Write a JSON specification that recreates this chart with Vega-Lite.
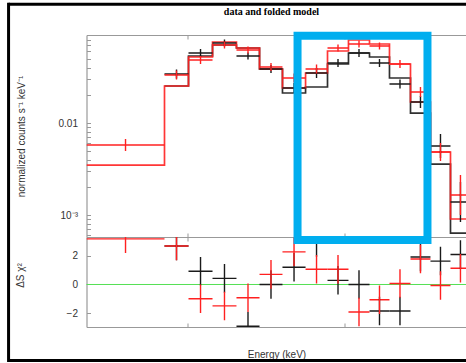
{
  "$schema": "https://vega.github.io/schema/vega-lite/v6.json",
  "autosize": {"type": "pad"},
  "padding": {"left": 6.5, "top": 1, "right": 0, "bottom": 0},
  "background": "white",
  "spacing": 0,
  "bounds": "flush",
  "config": {
    "view": {"stroke": null},
    "axis": {"grid": false, "domainColor": "#999999", "tickColor": "#999999", "domainWidth": 1.2, "tickWidth": 1, "labelFont": "Liberation Sans", "titleFont": "Liberation Sans", "labelFontSize": 10, "titleFontSize": 10, "labelColor": "#333333", "titleColor": "#333333", "titleFontWeight": "normal"}
  },
  "datasets": {
    "spec": [
      {"s":"b","lo":0.4517,"hi":0.5022,"mid":0.4763,"d":0.03408,"dlo":0.03046,"dhi":0.03814,"res":2.7,"rlo":1.7,"rhi":3.7},
      {"s":"b","lo":0.5022,"hi":0.5584,"mid":0.5296,"d":0.05767,"dlo":0.05218,"dhi":0.06374,"res":0.93,"rlo":-0.07,"rhi":1.93},
      {"s":"b","lo":0.5584,"hi":0.6207,"mid":0.5887,"d":0.07406,"dlo":0.06785,"dhi":0.08084,"res":0.43,"rlo":-0.57,"rhi":1.43},
      {"s":"b","lo":0.6207,"hi":0.6872,"mid":0.6531,"d":0.05351,"dlo":0.04902,"dhi":0.05841,"res":-2.93,"rlo":-3.93,"rhi":-1.93},
      {"s":"b","lo":0.6872,"hi":0.7605,"mid":0.7229,"d":0.03864,"dlo":0.03496,"dhi":0.04271,"res":0.0,"rlo":-1.0,"rhi":1.0},
      {"s":"b","lo":0.7605,"hi":0.8421,"mid":0.8003,"d":0.02401,"dlo":0.02119,"dhi":0.02721,"res":1.21,"rlo":0.21,"rhi":2.21},
      {"s":"b","lo":0.8421,"hi":0.9278,"mid":0.8839,"d":0.03495,"dlo":0.03084,"dhi":0.03961,"res":2.95,"rlo":1.95,"rhi":3.95},
      {"s":"b","lo":0.9278,"hi":1.0178,"mid":0.9718,"d":0.04489,"dlo":0.04061,"dhi":0.04962,"res":0.29,"rlo":-0.71,"rhi":1.29},
      {"s":"b","lo":1.0178,"hi":1.1168,"mid":1.0662,"d":0.05767,"dlo":0.05218,"dhi":0.06374,"res":0.0,"rlo":-1.0,"rhi":1.0},
      {"s":"b","lo":1.1168,"hi":1.2198,"mid":1.1672,"d":0.04489,"dlo":0.04061,"dhi":0.04962,"res":-1.86,"rlo":-2.86,"rhi":-0.86},
      {"s":"b","lo":1.2198,"hi":1.3384,"mid":1.2777,"d":0.02654,"dlo":0.02372,"dhi":0.0297,"res":-1.86,"rlo":-2.86,"rhi":-0.86},
      {"s":"b","lo":1.3384,"hi":1.4618,"mid":1.3987,"d":0.01692,"dlo":0.01456,"dhi":0.01966,"res":1.93,"rlo":0.93,"rhi":2.93},
      {"s":"b","lo":1.4618,"hi":1.5969,"mid":1.5279,"d":0.005623,"dlo":0.004164,"dhi":0.007593,"res":1.64,"rlo":0.64,"rhi":2.64},
      {"s":"b","lo":1.5969,"hi":1.744,"mid":1.6688,"d":0.001385,"dlo":0.000839,"dhi":0.002285,"res":2.1,"rlo":1.1,"rhi":3.1},
      {"s":"r","lo":0.3201,"hi":0.4517,"mid":0.3803,"d":0.005766,"dlo":0.004962,"dhi":0.0067,"res":3.2,"rlo":2.2,"rhi":4.2},
      {"s":"r","lo":0.4517,"hi":0.5022,"mid":0.4763,"d":0.03324,"dlo":0.02971,"dhi":0.0372,"res":2.7,"rlo":1.7,"rhi":3.7},
      {"s":"r","lo":0.5022,"hi":0.5584,"mid":0.5296,"d":0.04839,"dlo":0.04378,"dhi":0.05349,"res":-1.0,"rlo":-2.0,"rhi":0.0},
      {"s":"r","lo":0.5584,"hi":0.6207,"mid":0.5887,"d":0.07044,"dlo":0.06454,"dhi":0.07689,"res":-1.5,"rlo":-2.5,"rhi":-0.5},
      {"s":"r","lo":0.6207,"hi":0.6872,"mid":0.6531,"d":0.06216,"dlo":0.05695,"dhi":0.06785,"res":-0.93,"rlo":-1.93,"rhi":0.07},
      {"s":"r","lo":0.6872,"hi":0.7605,"mid":0.7229,"d":0.04062,"dlo":0.03675,"dhi":0.0449,"res":0.71,"rlo":-0.29,"rhi":1.71},
      {"s":"r","lo":0.7605,"hi":0.8421,"mid":0.8003,"d":0.03084,"dlo":0.02756,"dhi":0.03451,"res":2.29,"rlo":1.29,"rhi":3.29},
      {"s":"r","lo":0.8421,"hi":0.9278,"mid":0.8839,"d":0.03864,"dlo":0.03453,"dhi":0.04324,"res":1.07,"rlo":0.07,"rhi":2.07},
      {"s":"r","lo":0.9278,"hi":1.0178,"mid":0.9718,"d":0.06536,"dlo":0.05988,"dhi":0.07134,"res":1.07,"rlo":0.07,"rhi":2.07},
      {"s":"r","lo":1.0178,"hi":1.1168,"mid":1.0662,"d":0.07222,"dlo":0.06617,"dhi":0.07883,"res":-1.93,"rlo":-2.93,"rhi":-0.93},
      {"s":"r","lo":1.1168,"hi":1.2198,"mid":1.1672,"d":0.0687,"dlo":0.06294,"dhi":0.07499,"res":-1.07,"rlo":-2.07,"rhi":-0.07},
      {"s":"r","lo":1.2198,"hi":1.3384,"mid":1.2777,"d":0.04378,"dlo":0.03961,"dhi":0.04839,"res":0.07,"rlo":-0.93,"rhi":1.07},
      {"s":"r","lo":1.3384,"hi":1.4618,"mid":1.3987,"d":0.02172,"dlo":0.01917,"dhi":0.02461,"res":1.79,"rlo":0.79,"rhi":2.79},
      {"s":"r","lo":1.4618,"hi":1.5969,"mid":1.5279,"d":0.004839,"dlo":0.003863,"dhi":0.006062,"res":-0.07,"rlo":-1.07,"rhi":0.93},
      {"s":"r","lo":1.5969,"hi":1.744,"mid":1.6688,"d":0.00165,"dlo":0.001,"dhi":0.002723,"res":1.14,"rlo":0.14,"rhi":2.14}
    ],
    "model": [
      {"s":"b","e":0.4517,"m":0.02524},{"s":"b","e":0.5022,"m":0.05351},{"s":"b","e":0.5584,"m":0.07044},{"s":"b","e":0.6207,"m":0.06536},{"s":"b","e":0.6872,"m":0.03864},{"s":"b","e":0.7605,"m":0.02119},{"s":"b","e":0.8421,"m":0.02462},{"s":"b","e":0.9278,"m":0.04378},{"s":"b","e":1.0178,"m":0.05767},{"s":"b","e":1.1168,"m":0.05218},{"s":"b","e":1.2198,"m":0.03084},{"s":"b","e":1.3384,"m":0.01284},{"s":"b","e":1.4618,"m":0.003583},{"s":"b","e":1.5969,"m":0.0006373},{"s":"b","e":1.744,"m":0.0006373},
      {"s":"r","e":0.3201,"m":0.003495},{"s":"r","e":0.4517,"m":0.02524},{"s":"r","e":0.5022,"m":0.05218},{"s":"r","e":0.5584,"m":0.07594},{"s":"r","e":0.6207,"m":0.06536},{"s":"r","e":0.6872,"m":0.03864},{"s":"r","e":0.7605,"m":0.02401},{"s":"r","e":0.8421,"m":0.03495},{"s":"r","e":0.9278,"m":0.06063},{"s":"r","e":1.0178,"m":0.07984},{"s":"r","e":1.1168,"m":0.07222},{"s":"r","e":1.2198,"m":0.04378},{"s":"r","e":1.3384,"m":0.01692},{"s":"r","e":1.4618,"m":0.004839},{"s":"r","e":1.5969,"m":0.0009049},{"s":"r","e":1.744,"m":0.0009049}
    ],
    "zero": [{"z": 0}],
    "box": [{"e0": 0.8128, "e1": 1.4426, "r0": 3.12, "r1": 17.44}],
    "frame": [
      {"x1": 0.2269, "x2": 1.7139, "y1": 19.65, "y2": 19.65},
      {"x1": 0.2269, "x2": 1.7139, "y1": -5.33, "y2": -5.33},
      {"x1": 0.2269, "x2": 0.2269, "y1": -5.43, "y2": 19.75}
    ]
  },
  "vconcat": [
    {
      "width": 380,
      "height": 202,
      "title": {"text": "data and folded model", "font": "Liberation Serif", "fontSize": 10, "fontWeight": "bold", "color": "#000000", "offset": 8, "baseline": "bottom", "anchor": "middle", "frame": "group", "dx": -5},
      "resolve": {"axis": {"x": "independent"}},
      "layer": [
        {
          "data": {"name": "model"},
          "mark": {"type": "line", "interpolate": "step-after", "clip": true, "strokeWidth": 1.7, "opacity": 0.9},
          "encoding": {
            "x": {"field": "e", "type": "quantitative", "scale": {"type": "log", "domain": [0.3201, 1.7139], "nice": false}, "axis": {"orient": "bottom", "values": [0.5, 1], "labels": false, "title": null, "tickSize": -4}},
            "y": {"field": "m", "type": "quantitative", "scale": {"type": "log", "domain": [0.000577, 0.0905], "nice": false}, "title": "normalized counts s⁻¹ keV⁻¹",
              "axis": {"values": [0.0006, 0.0007, 0.0008, 0.0009, 0.001, 0.002, 0.003, 0.004, 0.005, 0.006, 0.007, 0.008, 0.009, 0.01, 0.02, 0.03, 0.04, 0.05, 0.06, 0.07, 0.08, 0.09], "labelExpr": "datum.value == 0.01 ? '0.01' : (datum.value == 0.001 ? '10⁻³' : '')", "tickSize": -4, "labelPadding": 13, "titlePadding": 32}},
            "color": {"field": "s", "type": "nominal", "scale": {"domain": ["b", "r"], "range": ["#1a1a1a", "#ff2020"]}, "legend": null}
          }
        },
        {
          "data": {"name": "spec"},
          "mark": {"type": "rule", "clip": true, "strokeWidth": 1.4},
          "encoding": {
            "x": {"field": "lo", "type": "quantitative", "scale": {"type": "log", "domain": [0.3201, 1.7139], "nice": false}, "axis": {"orient": "top", "values": [0.5, 1], "labels": false, "title": null, "tickSize": -4}},
            "x2": {"field": "hi"},
            "y": {"field": "d", "type": "quantitative", "scale": {"type": "log", "domain": [0.000577, 0.0905], "nice": false}, "title": "normalized counts s⁻¹ keV⁻¹"},
            "color": {"field": "s", "type": "nominal", "scale": {"domain": ["b", "r"], "range": ["#1a1a1a", "#ff2020"]}, "legend": null}
          }
        },
        {
          "data": {"name": "spec"},
          "mark": {"type": "rule", "clip": true, "strokeWidth": 1.4},
          "encoding": {
            "x": {"field": "mid", "type": "quantitative", "scale": {"type": "log", "domain": [0.3201, 1.7139], "nice": false}, "axis": null},
            "y": {"field": "dlo", "type": "quantitative", "scale": {"type": "log", "domain": [0.000577, 0.0905], "nice": false}, "title": "normalized counts s⁻¹ keV⁻¹"},
            "y2": {"field": "dhi"},
            "color": {"field": "s", "type": "nominal", "scale": {"domain": ["b", "r"], "range": ["#1a1a1a", "#ff2020"]}, "legend": null}
          }
        }
      ]
    },
    {
      "width": 380,
      "height": 90,
      "resolve": {"axis": {"x": "independent"}},
      "layer": [
        {
          "data": {"name": "zero"},
          "mark": {"type": "rule", "color": "#55e055", "strokeWidth": 1},
          "encoding": {
            "y": {"field": "z", "type": "quantitative", "scale": {"domain": [-2.98, 3.33], "nice": false, "zero": false}, "title": "ΔS χ²"}
          }
        },
        {
          "data": {"name": "spec"},
          "mark": {"type": "rule", "clip": true, "strokeWidth": 1.4},
          "encoding": {
            "x": {"field": "lo", "type": "quantitative", "scale": {"type": "log", "domain": [0.3201, 1.7139], "nice": false}, "axis": {"orient": "bottom", "values": [0.5, 1], "labels": false, "title": "Energy (keV)", "tickSize": -4, "titlePadding": 22}},
            "x2": {"field": "hi"},
            "y": {"field": "res", "type": "quantitative", "scale": {"domain": [-2.98, 3.33], "nice": false, "zero": false}, "title": "ΔS χ²",
              "axis": {"values": [-2, -1, 0, 1, 2, 3], "labelExpr": "datum.value % 2 == 0 ? datum.label : ''", "tickSize": -4, "labelPadding": 13, "titlePadding": 41, "titleY": 38}},
            "color": {"field": "s", "type": "nominal", "scale": {"domain": ["b", "r"], "range": ["#1a1a1a", "#ff2020"]}, "legend": null}
          }
        },
        {
          "data": {"name": "spec"},
          "mark": {"type": "rule", "clip": true, "strokeWidth": 1.4},
          "encoding": {
            "x": {"field": "mid", "type": "quantitative", "scale": {"type": "log", "domain": [0.3201, 1.7139], "nice": false}, "axis": {"orient": "top", "values": [0.5, 1], "labels": false, "title": null, "tickSize": -4}},
            "y": {"field": "rlo", "type": "quantitative", "scale": {"domain": [-2.98, 3.33], "nice": false, "zero": false}, "title": "ΔS χ²"},
            "y2": {"field": "rhi"},
            "color": {"field": "s", "type": "nominal", "scale": {"domain": ["b", "r"], "range": ["#1a1a1a", "#ff2020"]}, "legend": null}
          }
        },
        {
          "data": {"name": "box"},
          "mark": {"type": "rect", "filled": false, "stroke": "#00AEEF", "strokeWidth": 8, "clip": false},
          "encoding": {
            "x": {"field": "e0", "type": "quantitative", "scale": {"type": "log", "domain": [0.3201, 1.7139], "nice": false}, "axis": null},
            "x2": {"field": "e1"},
            "y": {"field": "r0", "type": "quantitative", "scale": {"domain": [-2.98, 3.33], "nice": false, "zero": false}, "title": "ΔS χ²"},
            "y2": {"field": "r1"}
          }
        },
        {
          "data": {"name": "frame"},
          "mark": {"type": "rule", "color": "#000000", "strokeWidth": 3, "clip": false},
          "encoding": {
            "x": {"field": "x1", "type": "quantitative", "scale": {"type": "log", "domain": [0.3201, 1.7139], "nice": false}, "axis": null},
            "x2": {"field": "x2"},
            "y": {"field": "y1", "type": "quantitative", "scale": {"domain": [-2.98, 3.33], "nice": false, "zero": false}, "title": "ΔS χ²"},
            "y2": {"field": "y2"}
          }
        }
      ]
    }
  ]
}
